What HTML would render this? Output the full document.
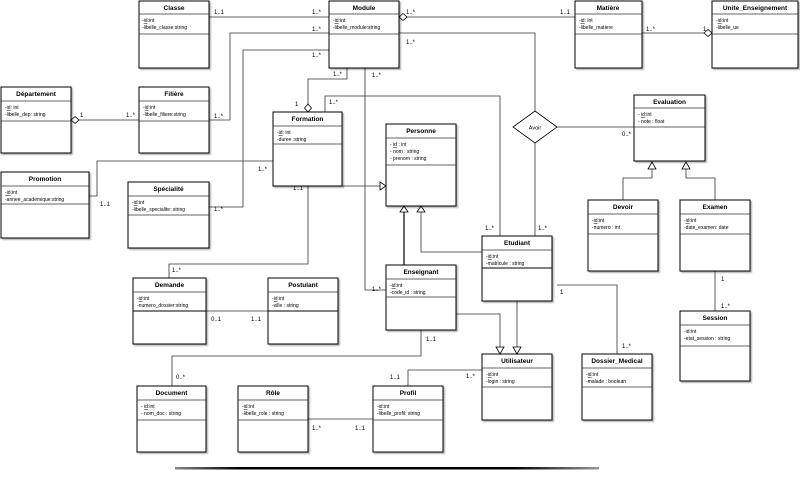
<!DOCTYPE html>
<html><head><meta charset="utf-8"><style>
html,body{margin:0;padding:0;background:#fff;}
svg{display:block;font-family:"Liberation Sans",sans-serif;}
.b{fill:#fff;stroke:#000;stroke-width:1;}
.t{font-size:6.5px;font-weight:bold;text-anchor:middle;}
.a{font-size:5px;}
.l{font-size:6px;}
.c{fill:none;stroke:#333;stroke-width:0.8;}
.k{fill:none;stroke:#000;stroke-width:1.2;}
.tri{fill:#fff;stroke:#000;stroke-width:0.8;}
</style></head><body>
<svg width="800" height="481" viewBox="0 0 800 481" xmlns="http://www.w3.org/2000/svg">
<defs><filter id="s" x="-5%" y="-5%" width="115%" height="115%"><feDropShadow dx="1.5" dy="1.5" stdDeviation="0.8" flood-color="#000" flood-opacity="0.3"/></filter></defs>

<!-- connectors -->
<g class="c">
<path d="M209 17H329"/>
<path d="M329 33H230V120H209"/>
<path d="M329 50H243V207H209"/>
<path d="M347 68V79H308V107"/>
<path d="M407 17H575"/>
<path d="M399 33H535V111"/>
<path d="M365 68V290H386"/>
<path d="M642 33H704"/>
<path d="M79 120H139"/>
<path d="M325 112V96H500V236"/>
<path d="M89 196H97V161H273"/>
<path d="M308 186V264H169V278"/>
<path d="M320 186H380"/>
<path d="M557 127H634"/>
<path d="M535 143V236"/>
<path d="M421 212V252H482"/>
<path d="M623 200V178H652V169"/>
<path d="M715 200V178H686V169"/>
<path d="M517 301V347"/>
<path d="M456 314H500V347"/>
<path d="M557 285H617V354"/>
<path d="M715 271V311"/>
<path d="M421 330V356H172V386"/>
<path d="M482 370H408V386"/>
<path d="M308 419H373"/>
<path d="M206 311H268"/>
</g>
<path d="M404 212V265" stroke="#000" stroke-width="1.2" fill="none"/>
<!-- diamonds / triangles -->
<path class="tri" d="M399 17l4-3.5 4 3.5-4 3.5z"/>
<path class="tri" d="M704 33l4-3.5 4 3.5-4 3.5z"/>
<path class="tri" d="M71 120l4-3.5 4 3.5-4 3.5z"/>
<path class="tri" d="M308 104l3.5 4-3.5 4-3.5-4z"/>
<path class="tri" d="M380 182l6 4-6 4z"/>
<path class="tri" d="M404 206l-4 6h8z"/>
<path class="tri" d="M421 206l-4 6h8z"/>
<path class="tri" d="M652 162l-4 7h8z"/>
<path class="tri" d="M686 162l-4 7h8z"/>
<path class="tri" d="M517 354l-4-7h8z"/>
<path class="tri" d="M500 354l-4-7h8z"/>
<path d="M535 111l22 16-22 16-22-16z" fill="#fff" stroke="#000" stroke-width="0.8"/>
<text x="535" y="129.5" class="a" text-anchor="middle" style="font-size:5.5px">Avoir</text>

<!-- boxes -->
<g id="boxes">
<g filter="url(#s)"><rect class="b" x="139" y="1" width="70" height="67"/></g>
<path class="c" d="M139 14H209M139 34H209"/>
<text class="t" x="174" y="10">Classe</text>
<text class="a" x="142" y="22">-<tspan text-decoration="underline">id</tspan>:int</text><text class="a" x="142" y="29">-libelle_classe:string</text>

<g filter="url(#s)"><rect class="b" x="329" y="1" width="70" height="67"/></g>
<path class="c" d="M329 14H399M329 34H399"/>
<text class="t" x="364" y="10">Module</text>
<text class="a" x="333" y="22">-<tspan text-decoration="underline">id</tspan>:int</text><text class="a" x="333" y="29">-libelle_module:string</text>

<g filter="url(#s)"><rect class="b" x="575" y="1" width="67" height="67"/></g>
<path class="c" d="M575 14H642M575 34H642"/>
<text class="t" x="608" y="10">Matière</text>
<text class="a" x="579" y="22">-<tspan text-decoration="underline">id</tspan>: int</text><text class="a" x="579" y="29">-libelle_matiere</text>

<g filter="url(#s)"><rect class="b" x="712" y="1" width="86" height="67"/></g>
<path class="c" d="M712 14H798M712 34H798"/>
<text class="t" x="755" y="10">Unite_Enseignement</text>
<text class="a" x="716" y="22">-<tspan text-decoration="underline">id</tspan>:int</text><text class="a" x="716" y="29">-libelle_ue</text>

<g filter="url(#s)"><rect class="b" x="1" y="87" width="70" height="66"/></g>
<path class="c" d="M1 101H71M1 121H71"/>
<text class="t" x="36" y="96">Département</text>
<text class="a" x="5" y="109">-<tspan text-decoration="underline">id</tspan>: int</text><text class="a" x="5" y="116">-libelle_dep: string</text>

<g filter="url(#s)"><rect class="b" x="139" y="87" width="70" height="66"/></g>
<path class="c" d="M139 101H209M139 121H209"/>
<text class="t" x="174" y="96">Filière</text>
<text class="a" x="143" y="109">-<tspan text-decoration="underline">id</tspan>:int</text><text class="a" x="143" y="116">-libelle_filiere:string</text>

<g filter="url(#s)"><rect class="b" x="273" y="112" width="69" height="74"/></g>
<path class="c" d="M273 126H342M273 144H342"/>
<text class="t" x="307.5" y="121">Formation</text>
<text class="a" x="277" y="134">-<tspan text-decoration="underline">id</tspan>: int</text><text class="a" x="277" y="141">-duree :string</text>

<g filter="url(#s)"><rect class="b" x="386" y="124" width="70" height="82"/></g>
<path class="c" d="M386 138H456M386 165H456"/>
<text class="t" x="421" y="133">Personne</text>
<text class="a" x="390" y="146">- <tspan text-decoration="underline">id</tspan> : int</text><text class="a" x="390" y="153">- nom : string</text><text class="a" x="390" y="160">- prenom : string</text>

<g filter="url(#s)"><rect class="b" x="1" y="172" width="88" height="66"/></g>
<path class="c" d="M1 186H89M1 204H89"/>
<text class="t" x="45" y="181">Promotion</text>
<text class="a" x="5" y="194"><tspan text-decoration="underline">-id</tspan>:int</text><text class="a" x="5" y="201">-annee_academique:string</text>

<g filter="url(#s)"><rect class="b" x="128" y="182" width="81" height="66"/></g>
<path class="c" d="M128 196H209M128 215H209"/>
<text class="t" x="168.5" y="191">Spécialité</text>
<text class="a" x="132" y="204">-<tspan text-decoration="underline">id</tspan>:int</text><text class="a" x="132" y="211">-libelle_specialite: string</text>

<g filter="url(#s)"><rect class="b" x="634" y="95" width="71" height="66"/></g>
<path class="c" d="M634 108H705M634 127H705"/>
<text class="t" x="669.5" y="104">Evaluation</text>
<text class="a" x="638" y="116">- <tspan text-decoration="underline">id</tspan>:int</text><text class="a" x="638" y="123">- note : float</text>

<g filter="url(#s)"><rect class="b" x="588" y="200" width="70" height="71"/></g>
<path class="c" d="M588 214H658M588 234H658"/>
<text class="t" x="623" y="209">Devoir</text>
<text class="a" x="592" y="222">-<tspan text-decoration="underline">id</tspan>:int</text><text class="a" x="592" y="229">-numero : int</text>

<g filter="url(#s)"><rect class="b" x="680" y="200" width="70" height="71"/></g>
<path class="c" d="M680 214H750M680 234H750"/>
<text class="t" x="715" y="209">Examen</text>
<text class="a" x="684" y="222">-<tspan text-decoration="underline">id</tspan>:int</text><text class="a" x="684" y="229">-date_examen: date</text>

<g filter="url(#s)"><rect class="b" x="482" y="236" width="70" height="65"/></g>
<path class="c" d="M482 250H552"/><path d="M482 268H552" stroke="#000"/>
<text class="t" x="517" y="245">Etudiant</text>
<text class="a" x="486" y="258">-<tspan text-decoration="underline">id</tspan>:int</text><text class="a" x="486" y="265">-matricule : string</text>

<g filter="url(#s)"><rect class="b" x="386" y="265" width="70" height="65"/></g>
<path class="c" d="M386 279H456M386 297H456"/>
<text class="t" x="421" y="274">Enseignant</text>
<text class="a" x="390" y="287">-<tspan text-decoration="underline">id</tspan>:int</text><text class="a" x="390" y="294">-code_id : string</text>

<g filter="url(#s)"><rect class="b" x="133" y="278" width="73" height="66"/></g>
<path class="c" d="M133 292H206"/><path d="M133 311H206" stroke="#000"/>
<text class="t" x="169.5" y="287">Demande</text>
<text class="a" x="137" y="300">-<tspan text-decoration="underline">id</tspan>:int</text><text class="a" x="137" y="307">-numero_dossier:string</text>

<g filter="url(#s)"><rect class="b" x="268" y="278" width="70" height="66"/></g>
<path class="c" d="M268 292H338"/><path d="M268 311H338" stroke="#000"/>
<text class="t" x="303" y="287">Postulant</text>
<text class="a" x="272" y="300">-<tspan text-decoration="underline">id</tspan>:int</text><text class="a" x="272" y="307">-ville : string</text>

<g filter="url(#s)"><rect class="b" x="482" y="354" width="70" height="66"/></g>
<path class="c" d="M482 368H552M482 387H552"/>
<text class="t" x="517" y="363">Utilisateur</text>
<text class="a" x="486" y="376">-<tspan text-decoration="underline">id</tspan>:int</text><text class="a" x="486" y="383">-login : string</text>

<g filter="url(#s)"><rect class="b" x="582" y="354" width="70" height="66"/></g>
<path class="c" d="M582 368H652M582 387H652"/>
<text class="t" x="617" y="363">Dossier_Medical</text>
<text class="a" x="586" y="376">-<tspan text-decoration="underline">id</tspan>:int</text><text class="a" x="586" y="383">-malade : boolean</text>

<g filter="url(#s)"><rect class="b" x="680" y="311" width="70" height="70"/></g>
<path class="c" d="M680 325H750M680 346H750"/>
<text class="t" x="715" y="320">Session</text>
<text class="a" x="684" y="333">-id:int</text><text class="a" x="684" y="340">-etat_session : string</text>

<g filter="url(#s)"><rect class="b" x="137" y="386" width="69" height="66"/></g>
<path class="c" d="M137 400H206M137 420H206"/>
<text class="t" x="171.5" y="395">Document</text>
<text class="a" x="141" y="408">- <tspan text-decoration="underline">id</tspan>:int</text><text class="a" x="141" y="415">- nom_doc : string</text>

<g filter="url(#s)"><rect class="b" x="238" y="386" width="70" height="66"/></g>
<path class="c" d="M238 400H308M238 420H308"/>
<text class="t" x="273" y="395">Rôle</text>
<text class="a" x="242" y="408">-<tspan text-decoration="underline">id</tspan>:int</text><text class="a" x="242" y="415">-libelle_role : string</text>

<g filter="url(#s)"><rect class="b" x="373" y="386" width="70" height="66"/></g>
<path class="c" d="M373 400H443M373 420H443"/>
<text class="t" x="408" y="395">Profil</text>
<text class="a" x="377" y="408">-<tspan text-decoration="underline">id</tspan>:int</text><text class="a" x="377" y="415">-libelle_profil: string</text>
</g>

<!-- multiplicities -->
<g class="l">
<text x="214" y="14">1..1</text><text x="312" y="14">1..*</text>
<text x="312" y="31">1..*</text><text x="214" y="118">1..*</text>
<text x="312" y="57">1..*</text><text x="214" y="211">1..*</text>
<text x="333" y="76">1..*</text><text x="295" y="106">1</text>
<text x="406" y="14">1..*</text><text x="560" y="14">1..1</text>
<text x="406" y="44">1..*</text>
<text x="372" y="77">1..*</text><text x="372" y="291">1..*</text>
<text x="646" y="31">1..*</text><text x="703" y="31">1</text>
<text x="80" y="117">1</text><text x="126" y="117">1..*</text>
<text x="329" y="104">1..*</text><text x="485" y="230">1..*</text>
<text x="100" y="206">1..1</text><text x="258" y="171">1..*</text>
<text x="293" y="190">1..1</text><text x="172" y="272">1..*</text>
<text x="622" y="136">0..*</text><text x="538" y="230">1..*</text>
<text x="560" y="294">1</text><text x="622" y="348">1..*</text>
<text x="721" y="281">1</text><text x="721" y="308">1..*</text>
<text x="176" y="379">0..*</text><text x="426" y="341">1..1</text>
<text x="390" y="379">1..1</text><text x="466" y="378">1..*</text>
<text x="312" y="430">1..*</text><text x="355" y="430">1..1</text>
<text x="211" y="321">0..1</text><text x="251" y="321">1..1</text>
</g>

<!-- bottom line -->
<defs><linearGradient id="g" x1="0" x2="1"><stop offset="0" stop-color="#888"/><stop offset="0.15" stop-color="#000"/><stop offset="0.8" stop-color="#000"/><stop offset="1" stop-color="#999"/></linearGradient></defs>
<rect x="175" y="467" width="424" height="2.5" fill="url(#g)"/>
</svg>
</body></html>
